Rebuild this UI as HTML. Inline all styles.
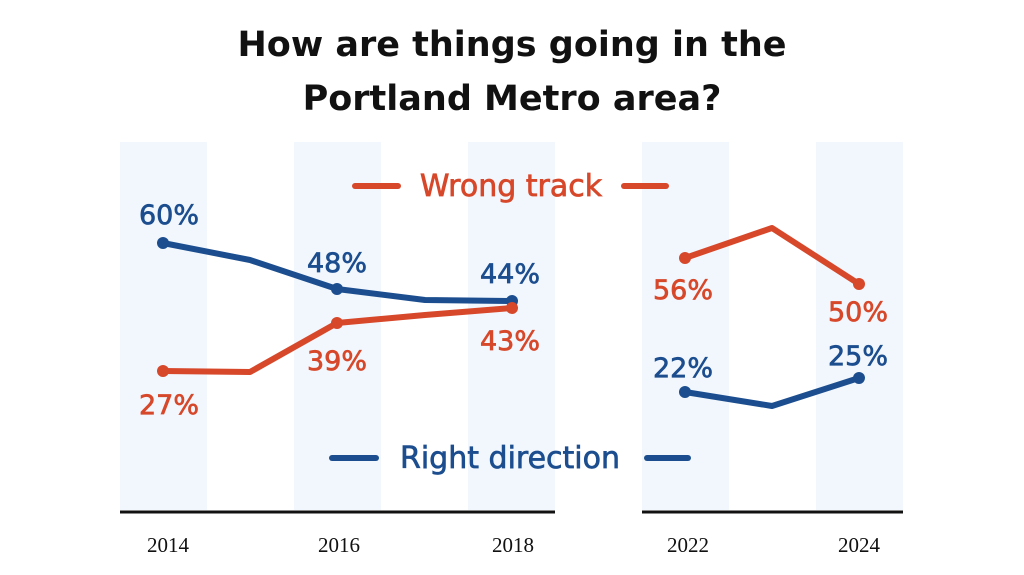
<!DOCTYPE html>
<html><head><style>
body{margin:0;background:#fff;}
svg{display:block;}
</style></head><body>
<svg width="1024" height="575" viewBox="0 0 1024 575" xmlns="http://www.w3.org/2000/svg">
<g fill="#f2f7fd">
<rect x="120" y="142" width="87" height="368"/>
<rect x="294" y="142" width="87" height="368"/>
<rect x="468" y="142" width="87" height="368"/>
<rect x="642" y="142" width="87" height="368"/>
<rect x="816" y="142" width="87" height="368"/>
</g>
<g font-family="'DejaVu Sans','Liberation Sans',sans-serif" font-weight="bold" font-size="35" text-anchor="middle" fill="#111">
<text x="512" y="56">How are things going in the</text>
<text x="512" y="110">Portland Metro area?</text>
</g>
<g stroke="#111" stroke-width="3">
<line x1="120" y1="512" x2="555" y2="512"/>
<line x1="642" y1="512" x2="903" y2="512"/>
</g>
<g font-family="'Liberation Serif',serif" font-size="21" text-anchor="middle" fill="#111">
<text x="168" y="552">2014</text>
<text x="339" y="552">2016</text>
<text x="513" y="552">2018</text>
<text x="688" y="552">2022</text>
<text x="859" y="552">2024</text>
</g>
<g fill="none" stroke-width="6" stroke-linecap="round" stroke-linejoin="round">
<polyline stroke="#1c4e8f" points="163,243 250,260 337,289 425,300 512,301"/>
<polyline stroke="#d7482b" points="163,371 250,372 337,323 425,315 512,308"/>
<polyline stroke="#d7482b" points="685,258 772,228 859,284"/>
<polyline stroke="#1c4e8f" points="685,392 772,406 859,378"/>
<line stroke="#d7482b" x1="355" y1="186" x2="398" y2="186"/>
<line stroke="#d7482b" x1="624" y1="186" x2="666" y2="186"/>
<line stroke="#1c4e8f" x1="332" y1="458" x2="376" y2="458"/>
<line stroke="#1c4e8f" x1="647" y1="458" x2="688" y2="458"/>
</g>
<g fill="#1c4e8f"><circle cx="163" cy="243" r="6"/><circle cx="337" cy="289" r="6"/><circle cx="512" cy="301" r="6"/><circle cx="685" cy="392" r="6"/><circle cx="859" cy="378" r="6"/></g>
<g fill="#d7482b"><circle cx="163" cy="371" r="6"/><circle cx="337" cy="323" r="6"/><circle cx="512" cy="308" r="6"/><circle cx="685" cy="258" r="6"/><circle cx="859" cy="284" r="6"/></g>
<g font-family="'DejaVu Sans','Liberation Sans',sans-serif" font-size="27" text-anchor="middle" stroke-width="0.7">
<g fill="#1c4e8f" stroke="#1c4e8f">
<text x="169" y="224">60%</text>
<text x="337" y="272">48%</text>
<text x="510" y="283">44%</text>
<text x="683" y="377">22%</text>
<text x="858" y="365">25%</text>
<text x="510" y="468" font-size="30">Right direction</text>
</g>
<g fill="#d7482b" stroke="#d7482b">
<text x="169" y="414">27%</text>
<text x="337" y="370">39%</text>
<text x="510" y="350">43%</text>
<text x="683" y="299">56%</text>
<text x="858" y="321">50%</text>
<text x="511" y="196" font-size="30">Wrong track</text>
</g>
</g>
</svg>
</body></html>
